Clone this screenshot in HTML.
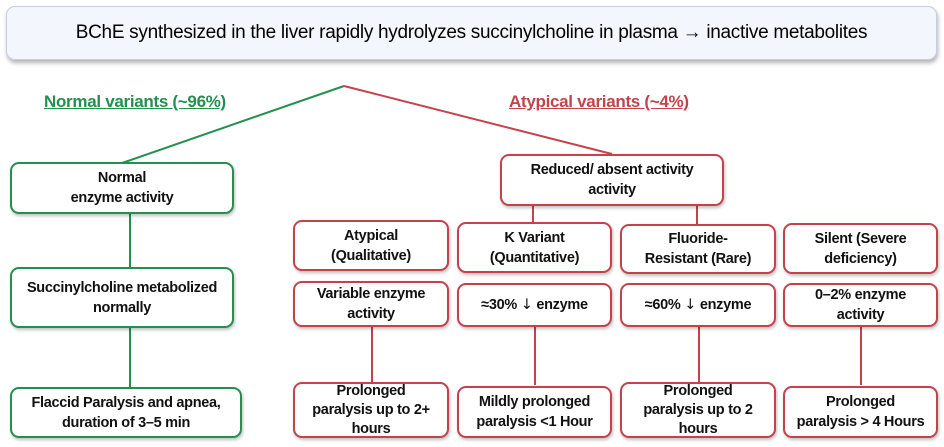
<!DOCTYPE html>
<html><head><meta charset="utf-8"><style>
body{margin:0;width:944px;height:447px;background:#fff;position:relative;overflow:hidden;font-family:"Liberation Sans",sans-serif;font-weight:bold;color:#111}
.b{position:absolute;box-sizing:border-box;border:2px solid;border-radius:9px;background:#fff;display:flex;align-items:center;justify-content:center;text-align:center;font-size:14.5px;line-height:20px;box-shadow:1px 2px 3px rgba(0,0,0,.25);letter-spacing:-0.3px}
.g{border-color:#23904f}
.r{border-color:#c4424c}
.v{position:absolute;width:2px}
.lab{position:absolute;font-size:17px;text-decoration:underline;letter-spacing:-0.3px}
.ar{font-family:"DejaVu Sans",sans-serif;font-weight:normal}
</style></head><body>
<div class="b" style="left:6px;top:6px;width:931px;height:54px;border:1px solid #c8cde6;background:#f4f6fd;font-size:19px;font-weight:normal;color:#000;box-shadow:1px 3px 4px rgba(0,0,0,.3)">BChE synthesized in the liver rapidly hydrolyzes succinylcholine in plasma → inactive metabolites</div>
<svg style="position:absolute;left:0;top:0" width="944" height="447">
<line x1="344" y1="86" x2="122" y2="163" stroke="#23904f" stroke-width="2"/>
<line x1="344" y1="86" x2="612" y2="154" stroke="#c4424c" stroke-width="2"/>
</svg>
<div class="lab" style="left:44px;top:92px;color:#23904f">Normal variants (~96%)</div>
<div class="lab" style="left:509px;top:92px;color:#c4424c">Atypical variants (~4%)</div>

<div class="v" style="left:129px;top:212px;height:178px;background:#23904f"></div>
<div class="b g" style="left:10px;top:162px;width:224px;height:52px">Normal<br>enzyme activity</div>
<div class="b g" style="left:10px;top:267px;width:224px;height:61px">Succinylcholine metabolized<br>normally</div>
<div class="b g" style="left:10px;top:387px;width:232px;height:51px">Flaccid Paralysis and apnea,<br>duration of 3–5 min</div>

<div class="v" style="left:532px;top:204px;height:20px;background:#c4424c"></div>
<div class="v" style="left:696px;top:204px;height:20px;background:#c4424c"></div>
<div class="b r" style="left:500px;top:154px;width:224px;height:52px">Reduced/ absent activity<br>activity</div>

<div class="v" style="left:371px;top:325px;height:60px;background:#c4424c"></div>
<div class="v" style="left:534px;top:325px;height:60px;background:#c4424c"></div>
<div class="v" style="left:698px;top:325px;height:60px;background:#c4424c"></div>
<div class="v" style="left:860px;top:325px;height:60px;background:#c4424c"></div>

<div class="b r" style="left:293px;top:220px;width:156px;height:51px">Atypical<br>(Qualitative)</div>
<div class="b r" style="left:457px;top:222px;width:155px;height:51px">K Variant<br>(Quantitative)</div>
<div class="b r" style="left:620px;top:224px;width:156px;height:50px">Fluoride-<br>Resistant (Rare)</div>
<div class="b r" style="left:783px;top:223px;width:155px;height:51px">Silent (Severe<br>deficiency)</div>

<div class="b r" style="left:293px;top:281px;width:156px;height:46px">Variable enzyme<br>activity</div>
<div class="b r" style="left:457px;top:283px;width:155px;height:44px"><span>≈30% <span class="ar">↓</span> enzyme</span></div>
<div class="b r" style="left:620px;top:283px;width:156px;height:44px"><span>≈60% <span class="ar">↓</span> enzyme</span></div>
<div class="b r" style="left:783px;top:283px;width:155px;height:44px">0–2% enzyme<br>activity</div>

<div class="b r" style="left:293px;top:382px;width:156px;height:56px;line-height:19px">Prolonged<br>paralysis up to 2+<br>hours</div>
<div class="b r" style="left:457px;top:386px;width:155px;height:52px">Mildly prolonged<br>paralysis &lt;1 Hour</div>
<div class="b r" style="left:620px;top:382px;width:156px;height:56px;line-height:19px">Prolonged<br>paralysis up to 2<br>hours</div>
<div class="b r" style="left:783px;top:386px;width:155px;height:52px">Prolonged<br>paralysis &gt; 4 Hours</div>
</body></html>
